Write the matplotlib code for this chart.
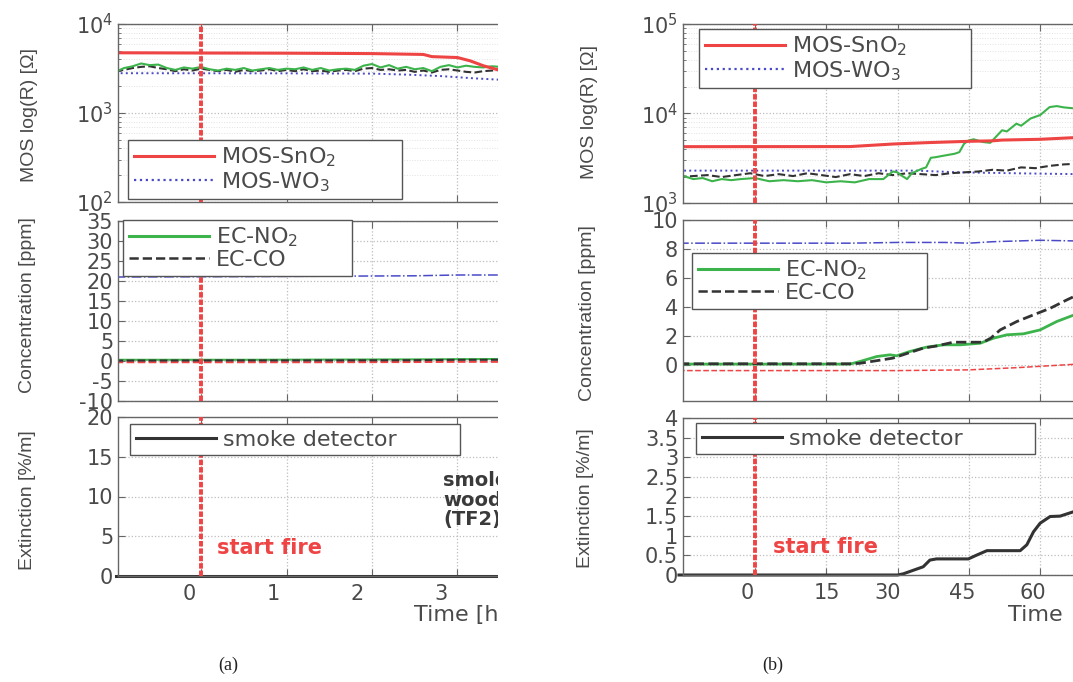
import numpy as np
import matplotlib
matplotlib.use("Agg")
import matplotlib.pyplot as plt
from matplotlib.lines import Line2D
from matplotlib.patches import Rectangle
from matplotlib.ticker import FuncFormatter, LogLocator, NullFormatter, FixedLocator

plt.rcParams['font.family'] = ['DejaVu Sans']
plt.rcParams['axes.unicode_minus'] = False

# ---------------- data: panel (a) (smoldering wood, time axis) ----------------
a_t = [-1.0, -0.9, -0.8, -0.7, -0.6, -0.5, -0.4, -0.3, -0.2, -0.1,
       0.0, 0.1, 0.2, 0.3, 0.4, 0.5, 0.6, 0.7, 0.8, 0.9,
       1.0, 1.1, 1.2, 1.3, 1.4, 1.5, 1.6, 1.7, 1.8, 1.9,
       2.0, 2.1, 2.2, 2.3, 2.4, 2.5, 2.6, 2.7, 2.8, 2.9,
       3.0, 3.1, 3.2, 3.3, 3.4, 3.5]
a_no2_top = [2900, 3200, 3350, 3600, 3450, 3500, 3200, 3050, 3250, 3150,
             3300, 3100, 3000, 3150, 3050, 3200, 3000, 3100, 3200, 3050,
             3150, 3100, 3250, 3050, 3200, 3000, 3100, 3150, 3050, 3400,
             3550, 3250, 3450, 3150, 3300, 3100, 3200, 2950, 3300, 3450,
             3250, 3400, 3300, 3250, 3350, 3300]
a_co_top = [2950, 3050, 3200, 3300, 3350, 3200, 3100, 2950, 3100, 3000,
            3150, 3050, 2950, 3050, 2900, 3050, 2950, 3000, 3100, 2950,
            3050, 2950, 3100, 2950, 3000, 2900, 3000, 3050, 2950, 3150,
            3200, 3050, 3100, 3000, 3050, 2900, 3000, 2850, 3050, 3100,
            3000, 2900, 2850, 2950, 3000, 3050]
a_sno2_t = [-1.0, 0.0, 1.0, 2.0, 2.6, 2.7, 3.0, 3.15, 3.3, 3.45, 3.55]
a_sno2 = [4750, 4720, 4700, 4650, 4550, 4300, 4200, 3850, 3400, 3100, 3000]
a_wo3_t = [-1.0, 1.0, 2.0, 2.4, 2.8, 3.2, 3.55]
a_wo3 = [2800, 2790, 2770, 2700, 2600, 2450, 2350]

a_mid_t = [-1.0, 0.5, 1.5, 2.5, 3.0, 3.55]
a_blue_mid = [21.0, 21.1, 21.2, 21.3, 21.5, 21.5]
a_red_mid = [-0.3, -0.3, -0.3, -0.25, -0.2, -0.2]
a_no2_mid = [0.3, 0.3, 0.35, 0.4, 0.45, 0.5]
a_co_mid = [0.1, 0.15, 0.15, 0.2, 0.3, 0.3]

a_smoke_t = [-1.0, 3.55]
a_smoke = [0.0, 0.0]

# ---------------- data: panel (b) ----------------
b_sno2_t = [-16, 20, 29, 36, 45, 50, 52, 60, 68]
b_sno2 = [4260, 4270, 4560, 4720, 4890, 4950, 5050, 5150, 5400]
b_wo3_t = [-16, 34, 43, 57, 68]
b_wo3 = [2300, 2300, 2200, 2140, 2100]
b_co_top_t = [-16, -13, -10, -7, -4, -1, 2, 5, 8, 11, 14, 17, 20, 23, 26,
              29, 32, 35, 38, 41, 44, 47, 50, 53, 56, 59, 62, 65, 68]
b_co_top = [1950, 2000, 2050, 1950, 2050, 2150, 2000, 2100, 2000, 2150,
            2050, 1950, 2100, 2000, 2150, 2050, 2150, 2100, 2050, 2150,
            2200, 2250, 2350, 2300, 2500, 2450, 2600, 2700, 2750]
b_no2_top_t = [-16, -15, -13, -11, -9, -7, -5, -3, 0, 3, 6, 9, 12, 15, 18,
               21, 24, 27, 29, 30, 31, 32, 33, 35, 36, 37, 38, 40, 42, 43,
               44, 45, 46, 48, 49.5, 52, 53, 55, 56, 58, 60, 62, 63.5, 65, 68]
b_no2_top = [2000, 2000, 1850, 1900, 1750, 1850, 1800, 1850, 1900, 1750,
             1800, 1750, 1800, 1700, 1750, 1700, 1850, 1850, 2250, 2200,
             2000, 1850, 2150, 2400, 2500, 3200, 3250, 3400, 3550, 3700,
             4600, 5000, 5150, 4800, 4700, 6500, 6300, 7700, 7300, 8800,
             9600, 11800, 12100, 11700, 11300]

b_blue_t = [-16, 20, 30, 40, 45, 50, 60, 68]
b_blue = [8.4, 8.4, 8.45, 8.45, 8.4, 8.5, 8.6, 8.55]
b_red_t = [-16, 30, 45, 55, 68]
b_red = [-0.4, -0.4, -0.35, -0.2, 0.05]
b_co_t = [-16, 20, 22, 29, 35.4, 38.2, 41.7, 48, 49.6, 51.6, 55.1, 58.6, 62.1, 65.6, 68]
b_co = [0.07, 0.07, 0.1, 0.46, 1.15, 1.3, 1.56, 1.56, 1.84, 2.41, 2.99, 3.45, 3.9, 4.48, 4.85]
b_no2_t = [-16, 20, 22.1, 25.6, 28.4, 29.8, 32.6, 36.1, 39.7, 43.2, 47.4, 50.2, 53, 56.5, 60, 63.5, 68]
b_no2 = [0.05, 0.05, 0.23, 0.57, 0.69, 0.62, 0.92, 1.22, 1.38, 1.38, 1.49, 1.84, 2.07, 2.14, 2.41, 2.99, 3.55]

b_smoke_t = [-16, 30, 31.2, 34.0, 35.4, 36.8, 38.2, 44.9, 46.7, 48.8, 55.8, 57.2, 58.6, 60.0, 62.1, 64.2, 68]
b_smoke = [0, 0, 0.03, 0.15, 0.21, 0.38, 0.41, 0.41, 0.51, 0.62, 0.62, 0.77, 1.1, 1.32, 1.49, 1.5, 1.65]

fire_time = 0.0

a_xticks = [0, 1, 2, 3, 4]
a_xlabels = ['0', '1', '2', '3']
a_xlabel_pos = [-0.14, 0.84, 1.825, 2.81]
b_xticks = [0, 15, 30, 45, 60, 75]
b_xlabels = ['0', '15', '30', '45', '60']
b_xlabel_pos = [-1.7, 15.2, 27.9, 43.7, 58.5]

# ---------------- styling ----------------
W, H = 1073, 682
fig = plt.figure(figsize=(W / 100, H / 100), dpi=100)

RED = '#ee4444'
GREEN = '#3cb44b'
BLACK = '#333333'
BLUE = '#4a4ac8'
TXT = '#4a4a4a'


def rect(x0, x1, ytop, ybot):
    return [x0 / W, 1 - ybot / H, (x1 - x0) / W, (ybot - ytop) / H]


def style(ax, xlim, xticks, bottom, lab_pos=None, labs=None):
    ax.set_xlim(*xlim)
    ax.xaxis.set_major_locator(FixedLocator(xticks))
    ax.tick_params(which='both', direction='in', top=True, right=True,
                   color='#666666', labelsize=15, labelcolor=TXT)
    ax.tick_params(which='major', length=5)
    ax.tick_params(which='minor', length=2.5)
    ax.grid(True, which='major', ls=':', color='#bdbdbd', lw=0.9)
    for s in ax.spines.values():
        s.set_color('#666666')
        s.set_linewidth(1.0)
    ax.set_axisbelow(True)
    ax.tick_params(axis='x', which='major', labelbottom=False)
    if bottom:
        ax.set_xticks(lab_pos, minor=True)
        ax.set_xticklabels(labs, minor=True)
        ax.tick_params(axis='x', which='minor', length=0, labelbottom=True,
                       pad=6, labelsize=15, labelcolor=TXT)
    ax.axvline(fire_time, color=RED, lw=2.8, ls=(0, (1.4, 0.5)), zorder=3)


def logfmt(v, p):
    return '$10^{%d}$' % int(round(np.log10(v)))


def setlog(ax, lo, hi):
    ax.set_yscale('log')
    ax.set_ylim(lo, hi)
    ax.yaxis.set_major_locator(LogLocator(base=10, numticks=10))
    ax.yaxis.set_major_formatter(FuncFormatter(logfmt))
    ax.yaxis.set_minor_locator(LogLocator(base=10, subs=range(2, 10), numticks=20))
    ax.yaxis.set_minor_formatter(NullFormatter())
    ax.grid(True, which='minor', axis='y', ls=':', color='#e2e2e2', lw=0.7)


def legend(ax, handles, labels, x0, x1, ytop):
    leg = ax.legend(handles, labels, loc='upper left',
                    bbox_to_anchor=(x0 / W, 1 - ytop / H, (x1 - x0) / W, 0),
                    bbox_transform=fig.transFigure, mode='expand',
                    borderaxespad=0, fontsize=16, handlelength=3.6,
                    handletextpad=0.35, borderpad=0.25, labelspacing=0.05,
                    fancybox=False, framealpha=1, edgecolor='#555555')
    leg.get_frame().set_linewidth(1.0)
    for t in leg.get_texts():
        t.set_color(TXT)
    leg.set_zorder(10)
    return leg


h_sno2 = Line2D([], [], color=RED, lw=2.2)
h_wo3 = Line2D([], [], color=BLUE, lw=1.6, ls=':')
h_no2 = Line2D([], [], color=GREEN, lw=2.2)
h_co = Line2D([], [], color=BLACK, lw=1.8, ls='--')
h_smoke = Line2D([], [], color=BLACK, lw=2.2)

a_xlim = (-0.971, 3.965)
b_xlim = (-15.15, 74.7)

# ---------------- panel (a) ----------------
ax = fig.add_axes(rect(118, 540, 24, 202))
style(ax, a_xlim, a_xticks, False)
setlog(ax, 1e2, 1e4)
ax.plot(a_wo3_t, a_wo3, color=BLUE, lw=1.4, ls=':')
ax.plot(a_t, a_co_top, color=BLACK, lw=1.5, ls='--')
ax.plot(a_t, a_no2_top, color=GREEN, lw=1.5)
ax.plot(a_sno2_t, a_sno2, color=RED, lw=2.2)
legend(ax, [h_sno2, h_wo3], ['MOS-SnO$_2$', 'MOS-WO$_3$'], 128, 402, 140)

ax = fig.add_axes(rect(118, 540, 221, 401))
style(ax, a_xlim, a_xticks, False)
ax.set_ylim(-10, 35)
ax.set_yticks(range(-10, 36, 5))
ax.plot(a_mid_t, a_blue_mid, color=BLUE, lw=1.1, ls='-.')
ax.plot(a_mid_t, a_red_mid, color=RED, lw=1.5, ls='--')
ax.plot(a_mid_t, a_no2_mid, color=GREEN, lw=1.5)
ax.plot(a_mid_t, a_co_mid, color=BLACK, lw=1.5, ls='--')
legend(ax, [h_no2, h_co], ['EC-NO$_2$', 'EC-CO'], 123, 352, 220)

ax_abot = fig.add_axes(rect(118, 540, 417, 576))
ax = ax_abot
style(ax, a_xlim, a_xticks, True, a_xlabel_pos, a_xlabels)
ax.set_ylim(0, 20)
ax.set_yticks(range(0, 21, 5))
ax.plot(a_smoke_t, a_smoke, color=BLACK, lw=2.2, clip_on=False)
legend(ax, [h_smoke], ['smoke detector'], 130, 460, 424)
# annotation of the test fire, cut by the crop as in the reference
ax.text(443 / W, 1 - 471 / H, 'smoldering\nwood\n(TF2)', color='#3a3a3a',
        fontsize=14, fontweight='bold', ha='left', va='top', linespacing=1.05,
        transform=fig.transFigure, clip_on=True)

# ---------------- panel (b) ----------------
ax = fig.add_axes(rect(683, 1110, 24, 203))
style(ax, b_xlim, b_xticks, False)
setlog(ax, 1e3, 1e5)
ax.plot(b_wo3_t, b_wo3, color=BLUE, lw=1.4, ls=':')
ax.plot(b_co_top_t, b_co_top, color=BLACK, lw=1.5, ls='--')
ax.plot(b_no2_top_t, b_no2_top, color=GREEN, lw=1.5)
ax.plot(b_sno2_t, b_sno2, color=RED, lw=2.2)
legend(ax, [h_sno2, h_wo3], ['MOS-SnO$_2$', 'MOS-WO$_3$'], 699, 971, 29)

ax = fig.add_axes(rect(683, 1110, 220, 401))
style(ax, b_xlim, b_xticks, False)
ax.set_ylim(-2.5, 10)
ax.set_yticks(range(0, 11, 2))
ax.plot(b_blue_t, b_blue, color=BLUE, lw=1.1, ls='-.')
ax.plot(b_red_t, b_red, color=RED, lw=1.1, ls='--')
ax.plot(b_no2_t, b_no2, color=GREEN, lw=2.0)
ax.plot(b_co_t, b_co, color=BLACK, lw=2.0, ls='--')
legend(ax, [h_no2, h_co], ['EC-NO$_2$', 'EC-CO'], 692, 927, 253)

ax = fig.add_axes(rect(683, 1110, 418, 575))
style(ax, b_xlim, b_xticks, True, b_xlabel_pos, b_xlabels)
ax.set_ylim(0, 4)
ax.set_yticks(np.arange(0, 4.01, 0.5))
ax.yaxis.set_major_formatter(FuncFormatter(lambda v, p: '%g' % v))
ax.plot(b_smoke_t, b_smoke, color=BLACK, lw=2.2, clip_on=False)
legend(ax, [h_smoke], ['smoke detector'], 696, 1035, 423)

# ---------------- texts ----------------
lab_kw = dict(rotation=90, ha='center', va='center', fontsize=14,
              family='Liberation Sans', color=TXT)
fig.text(30 / W, 1 - 115 / H, 'MOS log(R) [Ω]', **lab_kw)
fig.text(28 / W, 1 - 305 / H, 'Concentration [ppm]', **lab_kw)
fig.text(27 / W, 1 - 500 / H, 'Extinction [%/m]', **lab_kw)
fig.text(590 / W, 1 - 112 / H, 'MOS log(R) [Ω]', **lab_kw)
fig.text(588 / W, 1 - 313 / H, 'Concentration [ppm]', **lab_kw)
fig.text(585 / W, 1 - 498 / H, 'Extinction [%/m]', **lab_kw)

fig.text(217 / W, 1 - 548 / H, 'start fire', color=RED, fontsize=15,
         fontweight='bold', ha='left', va='center')
fig.text(773 / W, 1 - 547 / H, 'start fire', color=RED, fontsize=15,
         fontweight='bold', ha='left', va='center')

fig.text(414 / W, 1 - 615 / H, 'Time [h]', color=TXT, fontsize=16,
         ha='left', va='center')
fig.text(1008 / W, 1 - 615 / H, 'Time', color=TXT, fontsize=16,
         ha='left', va='center')

fig.text(228 / W, 1 - 665 / H, '(a)', family='Liberation Serif', fontsize=13,
         ha='center', va='center', color='#222222')
fig.text(773 / W, 1 - 665 / H, '(b)', family='Liberation Serif', fontsize=13,
         ha='center', va='center', color='#222222')

# crop of panel (a) on the right, as in the reference
fig.add_artist(Rectangle((498 / W, 0), (560 - 498) / W, 1,
                         transform=fig.transFigure, facecolor='white',
                         edgecolor='none', zorder=50))

fig.savefig('out.png', dpi=100)
